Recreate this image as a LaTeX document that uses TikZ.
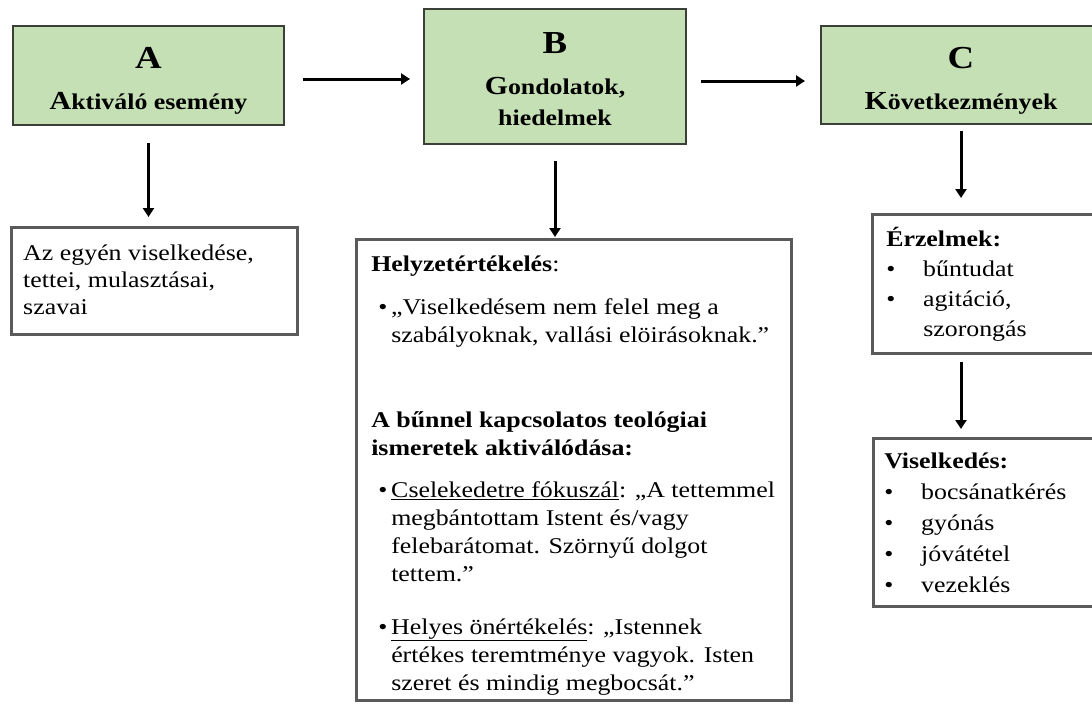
\documentclass[tikz,border=0pt]{standalone}
\usepackage{fontspec}
\setmainfont{Liberation Serif}[FakeStretch=1.15]
\usetikzlibrary{arrows.meta}
\definecolor{gfill}{HTML}{C5E0B4}
\definecolor{gline}{HTML}{3A3F38}
\definecolor{wline}{HTML}{5A5A5A}
\tikzset{
  gbox/.style={draw=gline, line width=2pt, fill=gfill, inner sep=0pt, anchor=north west},
  wbox/.style={draw=wline, line width=2.5pt, fill=white, inner sep=0pt, anchor=north west},
  arr/.style={line width=3pt, -{Triangle[width=11pt,length=9pt]}},
}
\newcommand{\rline}[2][0pt]{\noindent\hspace*{#1}\mbox{#2}\par}
\newcommand{\bul}[1]{\makebox[#1][l]{•}}
\begin{document}
\begin{tikzpicture}[x=1pt,y=-1pt]
\useasboundingbox (0,0) rectangle (1092,709);
\clip (0,0) rectangle (1092,709);
\fill[white] (0,0) rectangle (1092,709);

% green header boxes
\node[gbox] (A) at (12,25) {\begin{minipage}[t][99pt][t]{271pt}\centering
\rule{0pt}{43pt}{\fontsize{32}{43}\selectfont\bfseries A}\par
{\bfseries\fontsize{22.5}{40}\selectfont{\fontsize{26}{40}\selectfont A}ktiváló esemény\par}
\end{minipage}};

\node[gbox] (B) at (423,8) {\begin{minipage}[t][135pt][t]{262pt}\centering
\rule{0pt}{44pt}{\fontsize{32}{44}\selectfont\bfseries B}\par
{\bfseries\fontsize{22.5}{41}\selectfont{\fontsize{26}{41}\selectfont G}ondolatok,\par}
{\bfseries\fontsize{22.5}{32}\selectfont hiedelmek\par}
\end{minipage}};

\node[gbox] (C) at (820,25) {\begin{minipage}[t][98pt][t]{280pt}\centering
\rule{0pt}{43pt}{\fontsize{32}{43}\selectfont\bfseries C}\par
{\bfseries\fontsize{22.5}{40}\selectfont{\fontsize{26}{40}\selectfont K}övetkezmények\par}
\end{minipage}};

% white boxes
\node[wbox] (A1) at (10,226) {\begin{minipage}[t][107pt][t]{286pt}
\fontsize{22.5}{27}\selectfont\leftskip=12pt
\rline{\rule{0pt}{33pt}Az egyén viselkedése,}
\rline{tettei, mulasztásai,}
\rline{szavai}
\end{minipage}};

\node[wbox] (B1) at (355,238) {\begin{minipage}[t][461pt][t]{435pt}
\fontsize{22.5}{28}\selectfont\leftskip=15pt
\rline{\rule{0pt}{32pt}\textbf{Helyzetértékelés}:}
\vspace{15pt}
\rline{\makebox[20pt][l]{\hspace{7pt}•}„Viselkedésem nem felel meg a}
\rline[20pt]{szabályoknak, vallási elöirásoknak.”}
\vspace{57pt}
\rline{\textbf{A bűnnel kapcsolatos teológiai}}
\rline{\textbf{ismeretek aktiválódása:}}
\vspace{14pt}
\rline{\makebox[20pt][l]{\hspace{7pt}•}\underline{Cselekedetre fókuszál}: „A tettemmel}
\rline[20pt]{megbántottam Istent és/vagy}
\rline[20pt]{felebarátomat. Szörnyű dolgot}
\rline[20pt]{tettem.”}
\vspace{25pt}
\rline{\makebox[20pt][l]{\hspace{7pt}•}\underline{Helyes önértékelés}: „Istennek}
\rline[20pt]{értékes teremtménye vagyok. Isten}
\rline[20pt]{szeret és mindig megbocsát.”}
\end{minipage}};

\node[wbox] (C1) at (871,213) {\begin{minipage}[t][139pt][t]{229pt}
\fontsize{22.5}{30}\selectfont\leftskip=14pt
\rline{\rule{0pt}{32pt}\textbf{Érzelmek:}}
\rline{\bul{37pt}bűntudat}
\rline{\bul{37pt}agitáció,}
\rline[37pt]{szorongás}
\end{minipage}};

\node[wbox] (C2) at (872,437) {\begin{minipage}[t][168pt][t]{228pt}
\fontsize{22.5}{31}\selectfont\leftskip=11pt
\rline{\rule{0pt}{30pt}\textbf{Viselkedés:}}
\rline{\bul{37pt}bocsánatkérés}
\rline{\bul{37pt}gyónás}
\rline{\bul{37pt}jóvátétel}
\rline{\bul{37pt}vezeklés}
\end{minipage}};

% connectors
\draw[arr, shorten <=18pt, shorten >=13pt] ([yshift=-3.5pt]A.east) -- ([yshift=-3.5pt]A.east -| B.west);
\draw[arr, shorten <=14pt, shorten >=15pt] ([yshift=-4.5pt]B.east) -- ([yshift=-4.5pt]B.east -| C.west);
\draw[arr, shorten <=17pt, shorten >=9pt] (A.south) -- (A.south |- A1.north);
\draw[arr, shorten <=16pt, shorten >=1pt] (B.south) -- (B.south |- B1.north);
\draw[arr, shorten <=6pt, shorten >=15pt] (C.south) -- (C.south |- C1.north);
\draw[arr, shorten <=7pt, shorten >=8pt] (C1.south -| C.south) -- (C2.north -| C.south);
\end{tikzpicture}
\end{document}
